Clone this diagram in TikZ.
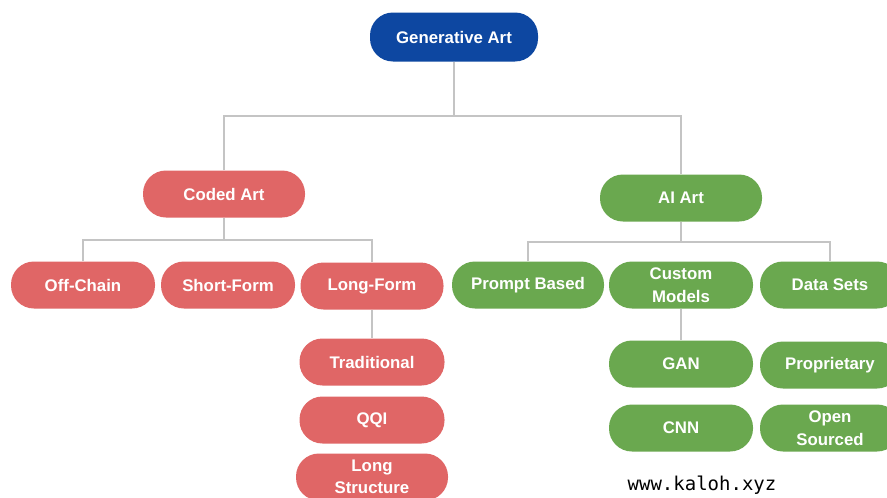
\documentclass[tikz,border=0pt]{standalone}
\usepackage{fontspec}
\setmainfont{Liberation Sans}
\setmonofont{DejaVu Sans Mono}
\usepackage{tikz}
\usetikzlibrary{positioning,calc}
\definecolor{cRoot}{HTML}{0D47A1}
\definecolor{cCoded}{HTML}{E06666}
\definecolor{cAI}{HTML}{6AA84F}
\definecolor{cLink}{HTML}{C4C4C4}

\begin{document}
\begin{tikzpicture}[x=1pt, y=-1pt, font=\fontsize{16.8}{22.5}\selectfont\bfseries,
    box/.style={rectangle, rounded corners=23pt, minimum height=47pt, text=white,
      align=center, inner sep=0pt},
    coded/.style={box, fill=cCoded},
    aiart/.style={box, fill=cAI},
    link/.style={draw=cLink, line width=1.3pt}]
  \useasboundingbox (0,0) rectangle (887,498);
  \fill[white] (0,0) rectangle (887,498);
  % top
  \node[box, fill=cRoot, minimum width=168pt, minimum height=49pt] (gen) at (454,37) {Generative Art};
  \node[coded, minimum width=162pt] (coded) at (224,194) {Coded Art};
  \node[aiart, minimum width=162pt] (ai) at (681,198) {AI Art};
  % coded art branch
  \node[coded, minimum width=144pt] (offchain) at (83,285) {Off-Chain};
  \node[coded, minimum width=134pt] (shortform) at (228,285) {Short-Form};
  \node[coded, minimum width=143pt] (longform) at (372,286) {Long-Form};
  \node[coded, minimum width=145pt] (trad) at (372,362) {Traditional};
  \node[coded, minimum width=145pt] (qqi) at (372,420) {QQI};
  \node[coded, minimum width=152pt] (longstruct) at (372,477) {Long\\Structure};
  % ai art branch
  \node[aiart, minimum width=152pt] (prompt) at (528,285) {Prompt Based};
  \node[aiart, minimum width=144pt] (custom) at (681,285) {Custom\\Models};
  \node[aiart, minimum width=140pt] (datasets) at (830,285) {Data Sets};
  \node[aiart, minimum width=144pt] (gan) at (681,364) {GAN};
  \node[aiart, minimum width=140pt] (propr) at (830,365) {Proprietary};
  \node[aiart, minimum width=144pt] (cnn) at (681,428) {CNN};
  \node[aiart, minimum width=140pt] (opensrc) at (830,428) {Open\\Sourced};
  \node[font=\fontsize{19}{22}\selectfont\ttfamily] (site) at (702,485) {www.kaloh.xyz};
  % connectors
  \coordinate (genBus) at (454,116);
  \coordinate (codedBus) at (224,240);
  \coordinate (aiBus) at (681,242);
  \draw[link] (gen.south) -- (genBus);
  \draw[link] (coded.north) |- (genBus) -| (ai.north);
  \draw[link] (coded.south) -- (codedBus);
  \draw[link] (offchain.north) |- (codedBus) -| (longform.north);
  \draw[link] (longform.south) -- (trad.north);
  \draw[link] (ai.south) -- (aiBus);
  \draw[link] (prompt.north) |- (aiBus) -| (datasets.north);
  \draw[link] (custom.south) -- (gan.north);
\end{tikzpicture}
\end{document}
